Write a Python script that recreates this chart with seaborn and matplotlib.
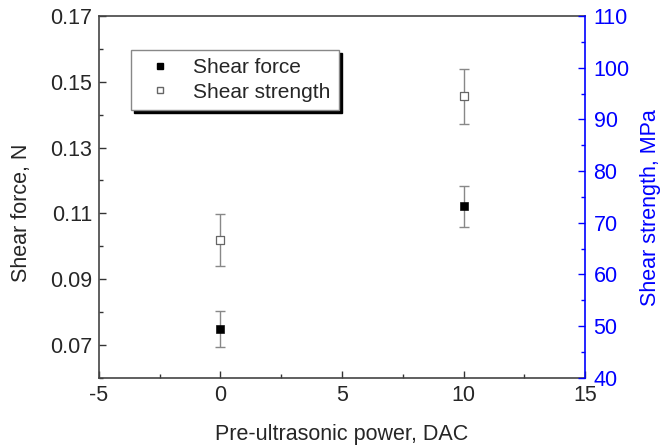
import numpy as np
import pandas as pd
import matplotlib
matplotlib.use("Agg")
import matplotlib.pyplot as plt
import seaborn as sns
from matplotlib.ticker import MultipleLocator

# data
power = [0, 10]
shear_force = [0.0748, 0.1122]
shear_force_err = [0.0055, 0.0062]
shear_strength = [66.7, 94.5]
shear_strength_err = [5.0, 5.3]

df = pd.DataFrame({"power": power, "force": shear_force, "force_err": shear_force_err,
                   "strength": shear_strength, "strength_err": shear_strength_err})

sns.set_style("ticks")
plt.rcParams["font.family"] = ["Liberation Sans", "DejaVu Sans"]
plt.rcParams["axes.unicode_minus"] = False
fs = 15.5

fig, ax = plt.subplots(figsize=(6.68, 4.45), dpi=100)
fig.subplots_adjust(left=0.148, right=0.876, bottom=0.151, top=0.964)
ax2 = ax.twinx()

# error bars first, markers on top
ax.errorbar(df["power"], df["force"], yerr=df["force_err"], fmt="none",
            ecolor="#888888", elinewidth=1, capsize=3.5, capthick=1, zorder=1)
ax2.errorbar(df["power"], df["strength"], yerr=df["strength_err"], fmt="none",
             ecolor="#888888", elinewidth=1, capsize=3.5, capthick=1, zorder=1)

sns.scatterplot(data=df, x="power", y="force", marker="s", color="black",
                edgecolor="black", s=30, ax=ax, zorder=3, legend=False)
sns.scatterplot(data=df, x="power", y="strength", marker="s", color="white",
                edgecolor="#666666", linewidth=0.9, s=30, ax=ax2, zorder=3, legend=False)

ax.set_xlim(-5, 15)
ax.set_ylim(0.06, 0.17)
ax2.set_ylim(40, 110)

ax.xaxis.set_major_locator(MultipleLocator(5))
ax.xaxis.set_minor_locator(MultipleLocator(2.5))
ax.set_yticks([0.07, 0.09, 0.11, 0.13, 0.15, 0.17])
ax.yaxis.set_minor_locator(MultipleLocator(0.01))
ax2.yaxis.set_major_locator(MultipleLocator(10))
ax2.yaxis.set_minor_locator(MultipleLocator(5))
ax.set_yticklabels(["0.07", "0.09", "0.11", "0.13", "0.15", "0.17"])

ax.tick_params(which="major", direction="in", length=5, width=1, labelsize=fs, color="#333333", pad=5)
ax.tick_params(which="minor", direction="in", length=3, width=1, color="#333333")
ax.tick_params(axis="y", which="both", right=False)
ax2.tick_params(which="major", direction="in", length=5, width=1, colors="blue", labelsize=fs, pad=6)
ax2.tick_params(which="minor", direction="in", length=3, width=1, colors="blue")

for side in ["left", "bottom", "top"]:
    ax.spines[side].set_color("#444444")
    ax.spines[side].set_linewidth(1.2)
ax.spines["right"].set_visible(False)
for side in ["left", "bottom", "top"]:
    ax2.spines[side].set_visible(False)
ax2.spines["right"].set_color("blue")
ax2.spines["right"].set_linewidth(1.2)

ax.set_xlabel("Pre-ultrasonic power, DAC", fontsize=fs, labelpad=13)
ax.set_ylabel("Shear force, N", fontsize=fs)
ax2.set_ylabel("Shear strength, MPa", fontsize=fs, color="blue")
ax.yaxis.set_label_coords(-0.138, 0.455)
ax2.yaxis.set_label_coords(1.113, 0.47)

h1 = plt.Line2D([], [], marker="s", linestyle="none", color="black", markersize=5)
h2 = plt.Line2D([], [], marker="s", linestyle="none", markerfacecolor="white",
                markeredgecolor="#666666", markersize=5)
leg = ax2.legend([h1, h2], ["Shear force", "Shear strength"], loc="upper left",
                 bbox_to_anchor=(0.066, 0.906), borderaxespad=0, fontsize=15,
                 frameon=True, fancybox=False, shadow={"color": "black", "alpha": 1},
                 handletextpad=0.6, borderpad=0.4, labelspacing=0.25, handlelength=2.0)
leg.get_frame().set_edgecolor("#888888")
leg.get_frame().set_linewidth(1)
leg.get_frame().set_alpha(1)

fig.savefig("out.png", dpi=100)
